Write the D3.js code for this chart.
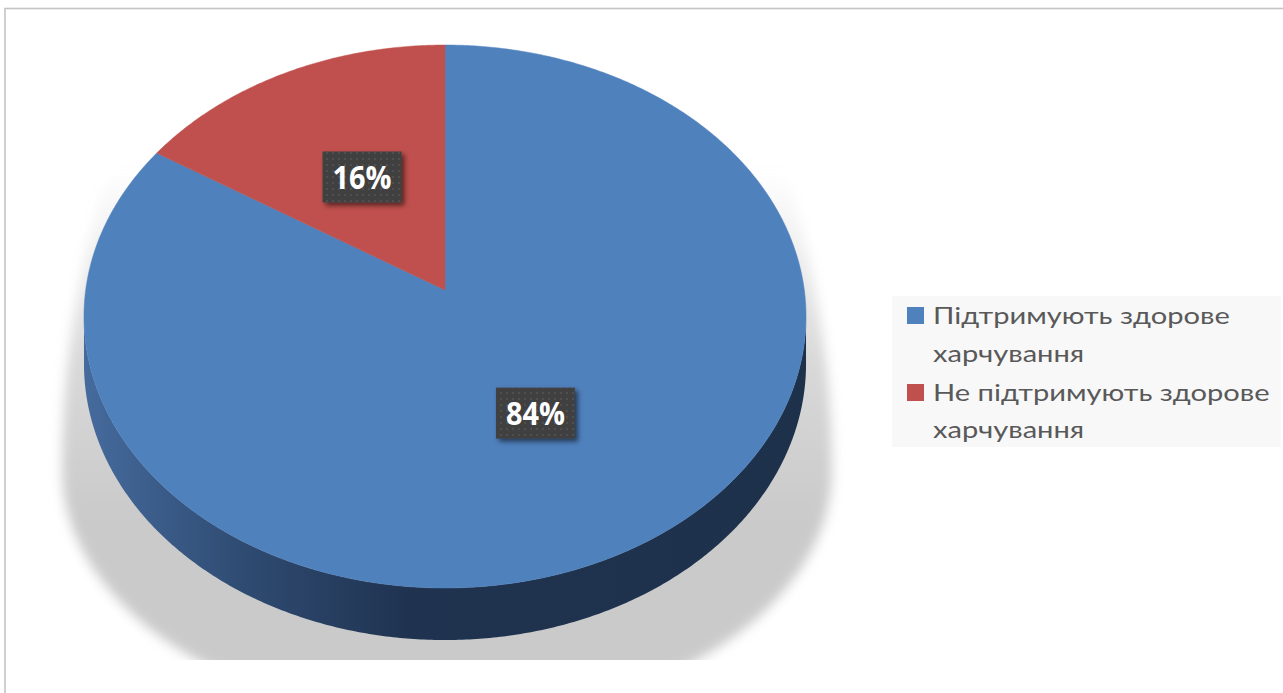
<!DOCTYPE html>
<html>
<head>
<meta charset="utf-8">
<script src="https://cdn.jsdelivr.net/npm/d3@7/dist/d3.min.js"></script>
<style>
html,body{margin:0;padding:0;background:#fff;overflow:hidden;}
svg{display:block;}
</style>
</head>
<body>
<svg id="chart" width="1283" height="693"></svg>
<script>
// ---- data ----
const categories = ["Підтримують здорове харчування", "Не підтримують здорове харчування"];
const legendLines = [["Підтримують здорове", "харчування"], ["Не підтримують здорове", "харчування"]];
const values = [84, 16];
const valueLabels = ["84%", "16%"];
const colors = ["#4f81bd", "#c0504d"];

// ---- geometry ----
const W = 1283, Hh = 693;
const cx = 445, cy = 290;      // projected pie centre
const R = 359.3, H = 268.9;    // radii of the projected disc
const k = 0.0976;              // perspective strength
const D = 47;                  // thickness

const svg = d3.select("#chart");
const defs = svg.append("defs");

function P(a, r, dz) {
  const u = r * Math.sin(a), v = r * Math.cos(a), w = 1 + k * v;
  return [cx + R * u / w, cy - H * v / w + D * dz / w];
}
function arcPts(a0, a1, r, dz) {
  const n = Math.max(2, Math.ceil(Math.abs(a1 - a0) / (Math.PI / 360)));
  return d3.range(n + 1).map(i => P(a0 + (a1 - a0) * i / n, r, dz));
}
const line = d3.line().curve(d3.curveLinear);

const pie = d3.pie().sort(null).startAngle(0).endAngle(2 * Math.PI);
const arcs = pie(values);

// chart border
svg.append("rect").attr("x", 5).attr("y", 8.5).attr("width", W + 20).attr("height", Hh + 20)
  .attr("fill", "#fff").attr("stroke", "#c4c4c4").attr("stroke-width", 1.6);

// ---- shadow ----
const shadowGrad = defs.append("linearGradient").attr("id", "shGrad")
  .attr("gradientUnits", "userSpaceOnUse").attr("x1", 0).attr("x2", 0).attr("y1", 170).attr("y2", 520);
shadowGrad.append("stop").attr("offset", 0).attr("stop-color", "#c8c8c8").attr("stop-opacity", 0);
shadowGrad.append("stop").attr("offset", 0.55).attr("stop-color", "#c8c8c8").attr("stop-opacity", 0.7);
shadowGrad.append("stop").attr("offset", 1).attr("stop-color", "#cacaca").attr("stop-opacity", 1);
const blur = defs.append("filter").attr("id", "blur").attr("x", "-20%").attr("y", "-20%").attr("width", "140%").attr("height", "140%");
blur.append("feGaussianBlur").attr("stdDeviation", 6);
defs.append("clipPath").attr("id", "plotClip").append("rect")
  .attr("x", 0).attr("y", 0).attr("width", W).attr("height", 660);

const sx = 447, sy = 470, srx = 385, sryTop = 620, sryBot = 250;
const shPts = d3.range(0, 361, 2).map(d => {
  const t = d * Math.PI / 180;
  const s = Math.sin(t), c = Math.cos(t);
  return [sx + srx * c, sy + (s > 0 ? sryBot : sryTop) * s];
});
svg.append("g").attr("clip-path", "url(#plotClip)")
  .append("path").attr("d", line(shPts) + "Z")
  .attr("fill", "url(#shGrad)").attr("filter", "url(#blur)");

// ---- side of the cylinder ----
const sideGrad = defs.append("linearGradient").attr("id", "sideGrad")
  .attr("gradientUnits", "userSpaceOnUse").attr("x1", 84).attr("x2", 806).attr("y1", 0).attr("y2", 0);
sideGrad.append("stop").attr("offset", 0).attr("stop-color", "#456b9d");
sideGrad.append("stop").attr("offset", 0.22).attr("stop-color", "#2f4b72");
sideGrad.append("stop").attr("offset", 0.45).attr("stop-color", "#1f3350");
sideGrad.append("stop").attr("offset", 1).attr("stop-color", "#1e314b");
const sideRedGrad = defs.append("linearGradient").attr("id", "sideGradRed")
  .attr("gradientUnits", "userSpaceOnUse").attr("x1", 84).attr("x2", 806).attr("y1", 0).attr("y2", 0);
sideRedGrad.append("stop").attr("offset", 0).attr("stop-color", "#9c3f3c");
sideRedGrad.append("stop").attr("offset", 0.45).attr("stop-color", "#5e2625");
sideRedGrad.append("stop").attr("offset", 1).attr("stop-color", "#5a2423");

const aL = Math.acos(-k), aR = 2 * Math.PI - aL;
arcs.forEach((d, i) => {
  const s = Math.max(d.startAngle, aL), e = Math.min(d.endAngle, aR);
  if (s < e) {
    const pts = arcPts(s, e, 1, 0).concat(arcPts(e, s, 1, 1));
    svg.append("path").attr("d", line(pts) + "Z")
      .attr("fill", i === 0 ? "url(#sideGrad)" : "url(#sideGradRed)");
  }
});

// ---- top faces ----
arcs.forEach((d, i) => {
  const pts = [P(0, 0, 0)].concat(arcPts(d.startAngle, d.endAngle, 1, 0));
  svg.append("path").attr("d", line(pts) + "Z").attr("fill", colors[i])
    .attr("stroke", colors[i]).attr("stroke-width", 0.5);
});

// ---- data labels ----
const pat = defs.append("pattern").attr("id", "dots").attr("patternUnits", "userSpaceOnUse")
  .attr("width", 6).attr("height", 6);
pat.append("rect").attr("width", 6).attr("height", 6).attr("fill", "#404040");
pat.append("circle").attr("cx", 3).attr("cy", 3).attr("r", 0.9).attr("fill", "#565656");
const ds = defs.append("filter").attr("id", "lblShadow").attr("x", "-30%").attr("y", "-30%").attr("width", "170%").attr("height", "170%");
ds.append("feDropShadow").attr("dx", 3).attr("dy", 3).attr("stdDeviation", 2.5)
  .attr("flood-color", "#000").attr("flood-opacity", 0.55);

const boxW = 79, boxH = 51;
const lblFont = "'Open Sans', 'DejaVu Sans', sans-serif";
const lblSize = 32;  // cap height ~23px
const probe = svg.append("text").attr("font-family", lblFont).attr("font-weight", "bold")
  .attr("font-size", lblSize).text("16%");
const lblScaleX = 59 / probe.node().getComputedTextLength();
probe.remove();

arcs.forEach((d, i) => {
  const mid = (d.startAngle + d.endAngle) / 2;
  const [lx, ly] = P(mid, 0.5, 0);
  const g = svg.append("g");
  g.append("rect").attr("x", lx - boxW / 2).attr("y", ly - boxH / 2)
    .attr("width", boxW).attr("height", boxH).attr("fill", "url(#dots)")
    .attr("filter", "url(#lblShadow)");
  g.append("text")
    .attr("transform", `translate(${lx},${ly + lblSize * 0.36}) scale(${lblScaleX},1)`)
    .attr("text-anchor", "middle").attr("font-family", lblFont).attr("font-weight", "bold")
    .attr("font-size", lblSize).attr("fill", "#fff").text(valueLabels[i]);
});

// ---- legend ----
const legX = 892, legY = 296, legW = 389, legH = 151;
const legG = svg.append("g");
legG.append("rect").attr("x", legX).attr("y", legY).attr("width", legW).attr("height", legH).attr("fill", "#f8f8f8");
const legFont = "Lato, 'Noto Sans', sans-serif";
const legSize = 24;  // cap height ~17px
const probe2 = svg.append("text").attr("font-family", legFont).attr("font-size", legSize).text(legendLines[0][0]);
const legScaleX = 297 / probe2.node().getComputedTextLength();
probe2.remove();
const baselines = [[324, 362], [401, 438]];
categories.forEach((c, i) => {
  legG.append("rect").attr("x", 907).attr("y", baselines[i][0] - 17).attr("width", 17).attr("height", 17)
    .attr("fill", colors[i]);
  legendLines[i].forEach((t, j) => {
    legG.append("text").attr("transform", `translate(933,${baselines[i][j]}) scale(${legScaleX},1)`)
      .attr("font-family", legFont).attr("font-size", legSize).attr("fill", "#595959").text(t);
  });
});
</script>
</body>
</html>
